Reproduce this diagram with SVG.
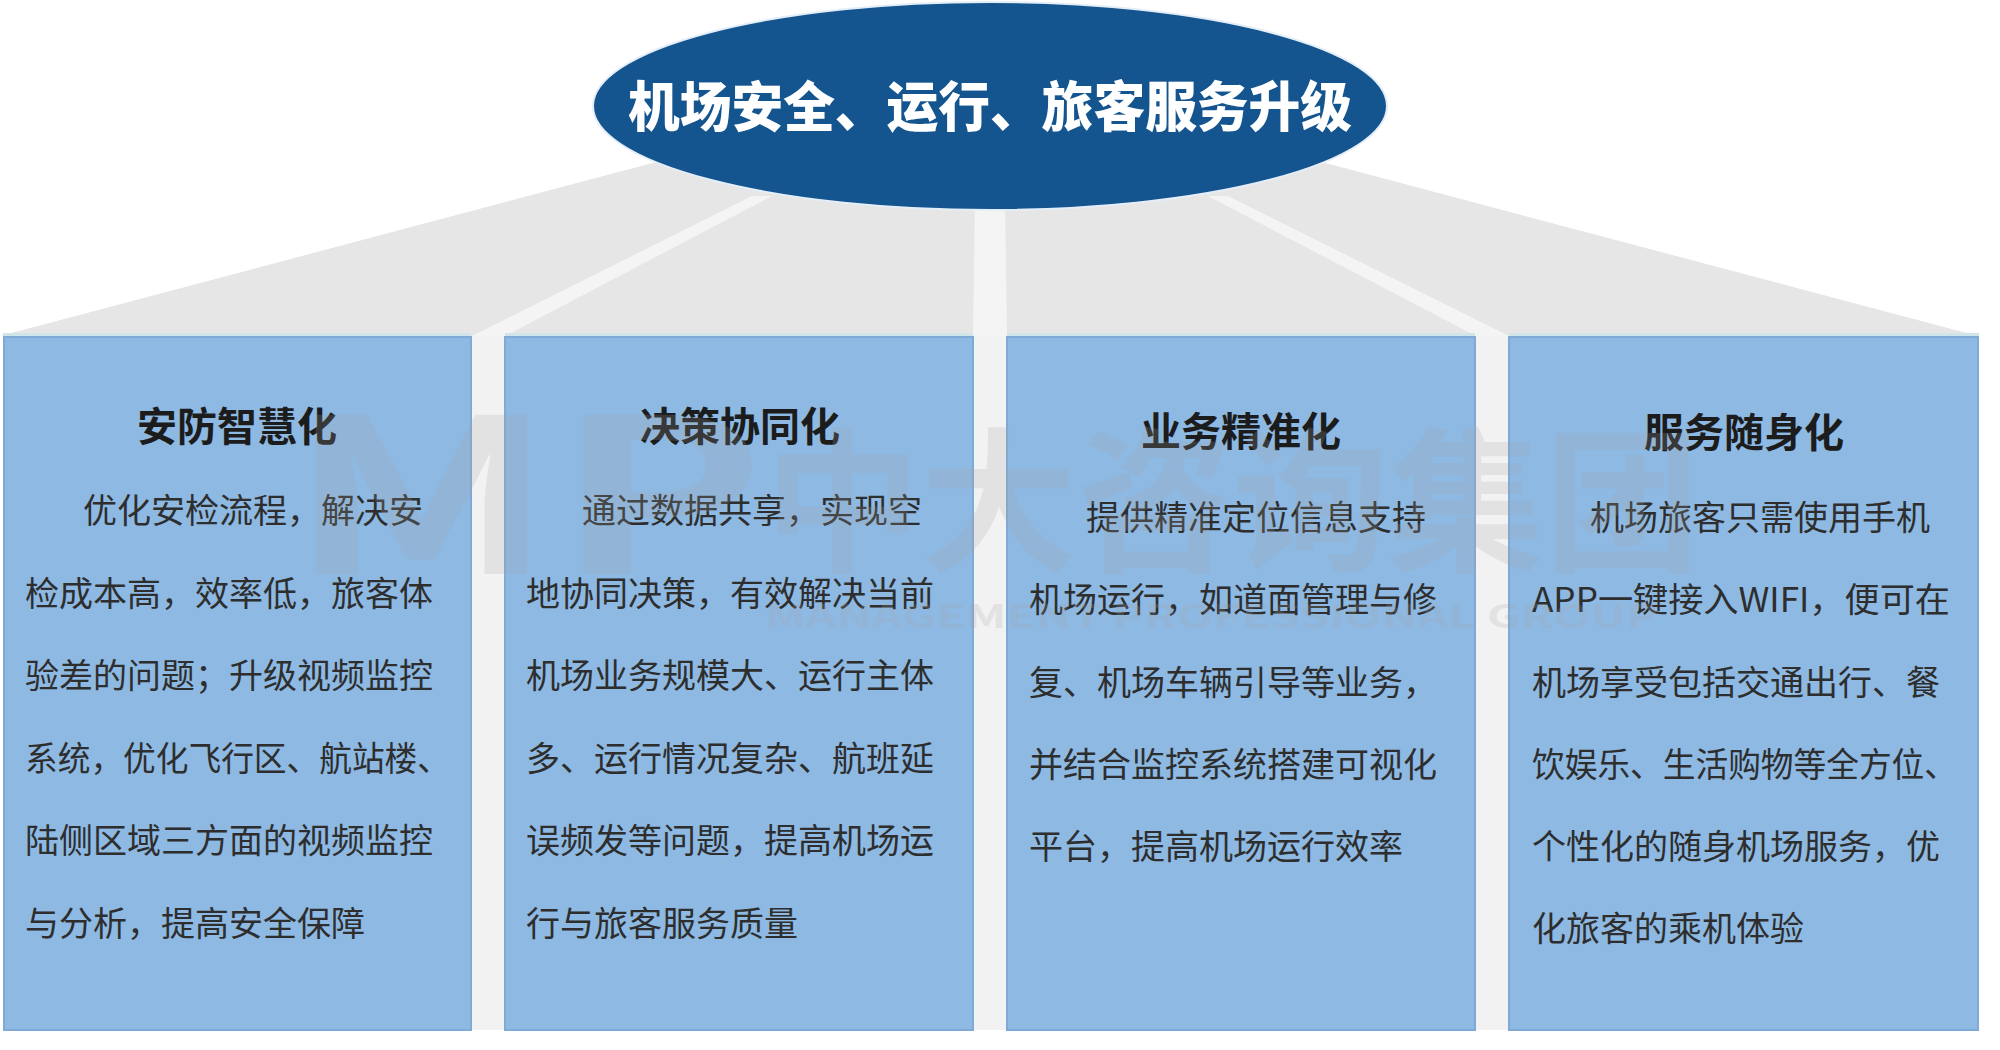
<svg xmlns="http://www.w3.org/2000/svg" width="2000" height="1050" viewBox="0 0 2000 1050">
  <style>
    .box { fill: #8db9e3; stroke: #7fa9d6; stroke-width: 2; }
    .gap { fill: #f2f2f2; }
    .rim { fill: #cfe5ea; }
    .title { font-family: "Noto Sans CJK SC", "Noto Sans", sans-serif; font-weight: 700; font-size: 40px; fill: #1c1c1c; text-anchor: middle; }
    .body { font-family: "Noto Sans CJK SC", "Noto Sans", sans-serif; font-size: 34px; fill: #2e2e2e; }
    .head { font-family: "Noto Sans CJK SC", "Noto Sans", sans-serif; font-weight: 900; font-size: 54px; fill: #ffffff; text-anchor: middle; }
    .wm { font-family: "Noto Sans CJK SC", "Noto Sans", sans-serif; font-weight: 700; fill: #a8a8a8; opacity: 0.2; }
  </style>
  <rect x="0" y="0" width="2000" height="1050" fill="#ffffff"/>

  <g id="connectors">
    <polygon points="0,336 815,120 1163,120 1978,336" fill="#e6e6e6"/>
    <polygon points="472,336 505,336 772,196 752,196" fill="#f4f4f4"/>
    <polygon points="973,336 1007,336 1005,196 975,196" fill="#f4f4f4"/>
    <polygon points="1476,336 1509,336 1228,196 1208,196" fill="#f4f4f4"/>
    <rect class="gap" x="471" y="336" width="34" height="694"/>
    <rect class="gap" x="973" y="336" width="34" height="694"/>
    <rect class="gap" x="1475" y="336" width="34" height="694"/>
  </g>

  <g id="root">
    <ellipse cx="990" cy="106" rx="397" ry="104" fill="#14548f" stroke="#e4eef8" stroke-width="2"/>
    <text class="head" x="990" y="127" textLength="724" lengthAdjust="spacingAndGlyphs">机场安全、运行、旅客服务升级</text>
  </g>

  <g id="box1">
    <rect class="rim" x="3" y="333" width="468" height="4"/>
    <rect class="box" x="4" y="337" width="467" height="693"/>
    <text class="title" x="237" y="441">安防智慧化</text>
    <text class="body" x="83" y="523">优化安检流程，解决安</text>
    <text class="body" x="25" y="606">检成本高，效率低，旅客体</text>
    <text class="body" x="25" y="688">验差的问题；升级视频监控</text>
    <text class="body" x="25" y="771" textLength="425" lengthAdjust="spacingAndGlyphs">系统，优化飞行区、航站楼、</text>
    <text class="body" x="25" y="853">陆侧区域三方面的视频监控</text>
    <text class="body" x="25" y="936">与分析，提高安全保障</text>
  </g>

  <g id="box2">
    <rect class="rim" x="505" y="333" width="468" height="4"/>
    <rect class="box" x="505" y="337" width="468" height="693"/>
    <text class="title" x="740" y="441">决策协同化</text>
    <text class="body" x="582" y="523">通过数据共享，实现空</text>
    <text class="body" x="526" y="606">地协同决策，有效解决当前</text>
    <text class="body" x="526" y="688">机场业务规模大、运行主体</text>
    <text class="body" x="526" y="771">多、运行情况复杂、航班延</text>
    <text class="body" x="526" y="853">误频发等问题，提高机场运</text>
    <text class="body" x="526" y="936">行与旅客服务质量</text>
  </g>

  <g id="box3">
    <rect class="rim" x="1007" y="333" width="468" height="4"/>
    <rect class="box" x="1007" y="337" width="468" height="693"/>
    <text class="title" x="1241" y="446">业务精准化</text>
    <text class="body" x="1086" y="530">提供精准定位信息支持</text>
    <text class="body" x="1029" y="612">机场运行，如道面管理与修</text>
    <text class="body" x="1029" y="695">复、机场车辆引导等业务，</text>
    <text class="body" x="1029" y="777">并结合监控系统搭建可视化</text>
    <text class="body" x="1029" y="859">平台，提高机场运行效率</text>
  </g>

  <g id="box4">
    <rect class="rim" x="1509" y="333" width="470" height="4"/>
    <rect class="box" x="1509" y="337" width="469" height="693"/>
    <text class="title" x="1744" y="447">服务随身化</text>
    <text class="body" x="1590" y="530">机场旅客只需使用手机</text>
    <text class="body" x="1532" y="612" textLength="418" lengthAdjust="spacingAndGlyphs">APP一键接入WIFI，便可在</text>
    <text class="body" x="1532" y="695">机场享受包括交通出行、餐</text>
    <text class="body" x="1532" y="777" textLength="425" lengthAdjust="spacingAndGlyphs">饮娱乐、生活购物等全方位、</text>
    <text class="body" x="1532" y="859">个性化的随身机场服务，优</text>
    <text class="body" x="1532" y="941">化旅客的乘机体验</text>
  </g>

  <g id="watermark">
    <text class="wm" x="287" y="574" font-size="215" textLength="478" lengthAdjust="spacingAndGlyphs">MP</text>
    <text class="wm" x="765" y="559" font-size="155" textLength="935" lengthAdjust="spacingAndGlyphs">中大咨询集团</text>
    <text class="wm" x="765" y="628" font-size="32" font-weight="400" textLength="893" lengthAdjust="spacingAndGlyphs">MANAGEMENT PROFESSIONAL GROUP</text>
  </g>
</svg>
